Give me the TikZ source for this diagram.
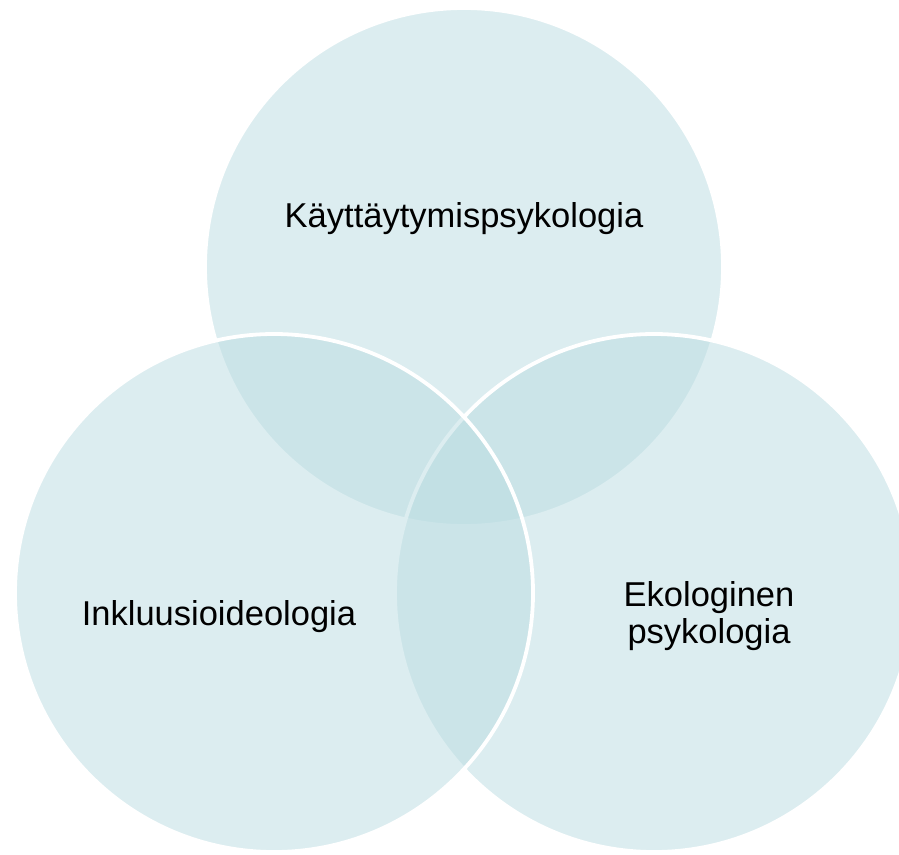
\documentclass[tikz,border=0pt]{standalone}
\usepackage{fontspec}
\setmainfont{Liberation Sans}
\definecolor{vennfill}{RGB}{187,221,226}
\begin{document}
\begin{tikzpicture}[x=1pt,y=-1pt,
  venn/.style={circle, minimum size=518pt, inner sep=0pt, fill=vennfill, fill opacity=0.5, draw=white, draw opacity=1, line width=3.8pt},
  lbl/.style={font=\fontsize{34.5}{36.5}\selectfont, inner sep=0pt, text=black, align=center}]
\useasboundingbox[fill=white] (0,0) rectangle (899,854);
\node[venn] (ctop) at (464,267) {};
\node[venn] (cright) at (654,593) {};
\node[venn] (cleft) at (274,593) {};
\node[lbl, anchor=base] (ltop) at (464,227) {Käyttäytymispsykologia};
\node[lbl, anchor=base] (lleft) at (219,625) {Inkluusioideologia};
\node[lbl] (lright) at (709,616) {Ekologinen\\psykologia};
\end{tikzpicture}
\end{document}
